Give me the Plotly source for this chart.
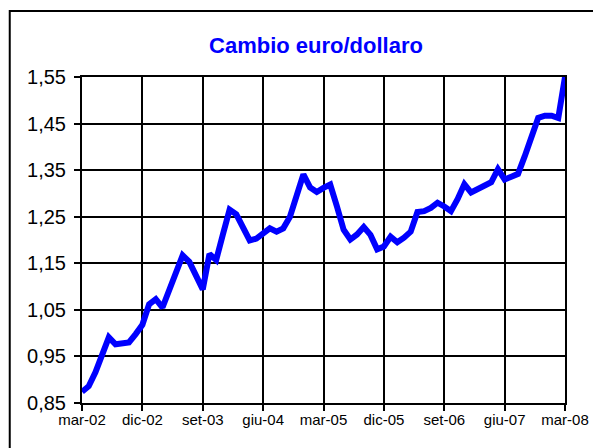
import plotly.graph_objects as go

month_names = ["gen", "feb", "mar", "apr", "mag", "giu", "lug", "ago", "set", "ott", "nov", "dic"]
months = []
for yr in range(2, 9):
    for mi, mn in enumerate(month_names):
        if (yr == 2 and mi < 2) or (yr == 8 and mi > 2):
            continue
        months.append(f"{mn}-{yr:02d}")

rates = [
    0.874, 0.886, 0.916, 0.955, 0.991, 0.976, 0.979, 0.980, 0.998, 1.018,
    1.062, 1.073, 1.055, 1.090, 1.130, 1.167, 1.153, 1.122, 1.094, 1.170,
    1.157, 1.212, 1.265, 1.255, 1.228, 1.199, 1.203, 1.214, 1.225, 1.218,
    1.225, 1.250, 1.297, 1.341, 1.313, 1.303, 1.312, 1.319, 1.272, 1.222,
    1.201, 1.212, 1.228, 1.211, 1.180, 1.186, 1.207, 1.195, 1.205, 1.218,
    1.260, 1.262, 1.269, 1.280, 1.272, 1.262, 1.288, 1.320, 1.302, 1.310,
    1.317, 1.324, 1.352, 1.330, 1.336, 1.342, 1.380, 1.420, 1.462, 1.467,
    1.467, 1.462, 1.550,
]

x_tick_labels = ["mar-02", "dic-02", "set-03", "giu-04", "mar-05", "dic-05", "set-06", "giu-07", "mar-08"]
y_ticks = [0.85, 0.95, 1.05, 1.15, 1.25, 1.35, 1.45, 1.55]

title_text = "Cambio euro/dollaro"

FONT = "Liberation Sans, Arial, sans-serif"

fig = go.Figure()
fig.add_trace(go.Scatter(
    x=months, y=rates, mode="lines",
    line=dict(color="#0000FF", width=6),
    hoverinfo="x+y", showlegend=False,
))

fig.update_layout(
    width=593, height=440,
    margin=dict(l=74, r=31, t=69, b=45),
    paper_bgcolor="white", plot_bgcolor="white",
    separators=",.",
    font=dict(family=FONT, color="black"),
    title=dict(text=title_text, x=0.5194, xanchor="center", y=0.916, yanchor="middle",
               xref="container", yref="container",
               font=dict(family=FONT, size=22, color="#0000FF", weight="bold")),
    shapes=[dict(type="rect", xref="paper", yref="paper",
                 x0=-0.1496, x1=1.3, y0=-0.3, y1=1.2025,
                 line=dict(color="black", width=2), fillcolor="rgba(0,0,0,0)", layer="below")],
)

fig.update_xaxes(
    type="category", range=[0, len(months) - 1],
    tickmode="array", tickvals=x_tick_labels, ticktext=x_tick_labels,
    showgrid=True, gridcolor="black", gridwidth=2,
    showline=True, linecolor="black", linewidth=2, mirror=True,
    ticks="outside", ticklen=6, tickwidth=2, tickcolor="black",
    tickfont=dict(family=FONT, size=15, color="black"),
    tickangle=0, zeroline=False, ticklabelstandoff=-4,
)
fig.update_yaxes(
    range=[0.85, 1.55], tickmode="array", tickvals=y_ticks,
    tickformat=".2f",
    showgrid=True, gridcolor="black", gridwidth=2,
    showline=True, linecolor="black", linewidth=2, mirror=True,
    ticks="outside", ticklen=6, tickwidth=2, tickcolor="black",
    tickfont=dict(family=FONT, size=20, color="black"),
    ticklabelstandoff=4, zeroline=False,
)

fig.write_html("out.html")
